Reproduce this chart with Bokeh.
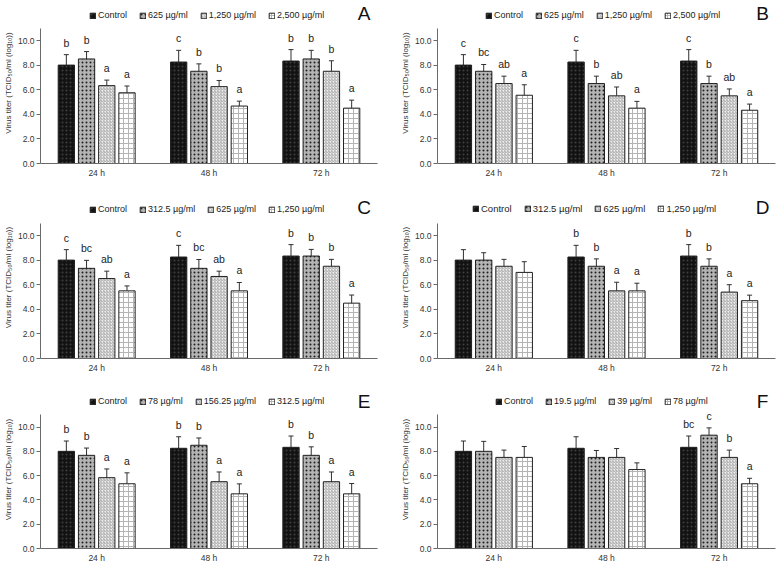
from bokeh.plotting import figure
from bokeh.models import (FactorRange, ColumnDataSource, Whisker, TeeHead, Legend,
                          LegendItem, Label, FixedTicker, NumeralTickFormatter)
from bokeh.transform import dodge
from bokeh.layouts import column, row
from bokeh.embed import file_html
from bokeh.resources import INLINE
from bokeh.core.properties import value

# ---------------- data ----------------
times = ["24 h", "48 h", "72 h"]

control_mean = [8.0, 8.25, 8.33]
control_err = [0.85, 0.95, 0.93]

# Panel A
a_series = ["Control", "625 µg/ml", "1,250 µg/ml", "2,500 µg/ml"]
a_means = [control_mean, [8.5, 7.5, 8.5], [6.33, 6.25, 7.5], [5.75, 4.67, 4.5]]
a_errs = [control_err, [0.6, 0.6, 0.7], [0.45, 0.5, 0.85], [0.55, 0.4, 0.65]]
a_letters = [["b", "c", "b"], ["b", "b", "b"], ["a", "b", "b"], ["a", "a", "a"]]

# Panel B
b_series = ["Control", "625 µg/ml", "1,250 µg/ml", "2,500 µg/ml"]
b_means = [control_mean, [7.5, 6.5, 6.5], [6.5, 5.5, 5.5], [5.55, 4.5, 4.33]]
b_errs = [control_err, [0.55, 0.6, 0.6], [0.6, 0.72, 0.56], [0.85, 0.55, 0.5]]
b_letters = [["c", "c", "c"], ["bc", "b", "b"], ["ab", "ab", "ab"], ["a", "a", "a"]]

# Panel C
c_series = ["Control", "312.5 µg/ml", "625 µg/ml", "1,250 µg/ml"]
c_means = [control_mean, [7.33, 7.33, 8.33], [6.5, 6.67, 7.5], [5.5, 5.5, 4.5]]
c_errs = [control_err, [0.65, 0.72, 0.54], [0.6, 0.43, 0.56], [0.4, 0.68, 0.66]]
c_letters = [["c", "c", "b"], ["bc", "bc", "b"], ["ab", "ab", "b"], ["a", "a", "a"]]

# Panel D
d_series = ["Control", "312.5 µg/ml", "625 µg/ml", "1,250 µg/ml"]
d_means = [control_mean, [8.0, 7.5, 7.5], [7.5, 5.5, 5.4], [7.0, 5.5, 4.7]]
d_errs = [control_err, [0.6, 0.6, 0.6], [0.56, 0.7, 0.6], [0.87, 0.62, 0.45]]
d_letters = [["", "b", "b"], ["", "b", "b"], ["", "a", "a"], ["", "a", "a"]]

# Panel E
e_series = ["Control", "78 µg/ml", "156.25 µg/ml", "312.5 µg/ml"]
e_means = [control_mean, [7.67, 8.5, 7.67], [5.83, 5.5, 5.5], [5.33, 4.5, 4.5]]
e_errs = [control_err, [0.6, 0.6, 0.7], [0.72, 0.8, 0.8], [0.9, 0.82, 0.85]]
e_letters = [["b", "b", "b"], ["b", "b", "b"], ["a", "a", "a"], ["a", "a", "a"]]

# Panel F
f_series = ["Control", "19.5 µg/ml", "39 µg/ml", "78 µg/ml"]
f_means = [control_mean, [8.0, 7.5, 9.33], [7.5, 7.5, 7.5], [7.5, 6.5, 5.33]]
f_errs = [control_err, [0.82, 0.57, 0.6], [0.6, 0.73, 0.6], [0.9, 0.55, 0.45]]
f_letters = [["", "", "bc"], ["", "", "c"], ["", "", "b"], ["", "", "a"]]

y_ticks = [0, 2, 4, 6, 8, 10]

# ---------------- style ----------------
FONT = "Liberation Sans"
OFFSETS = [-0.27, -0.09, 0.09, 0.27]
BAR_W = 0.145
PX_PER_UNIT = 12.3
STYLES = [
    dict(fill_color="#121212", hatch_pattern="dot", hatch_color="#3e3e3e", hatch_scale=4, hatch_weight=1),
    dict(fill_color="#b4b4b4", hatch_pattern="dot", hatch_color="#1e1e1e", hatch_scale=4, hatch_weight=1),
    dict(fill_color="#f0f0f0", hatch_pattern="right_diagonal_line", hatch_color="#a8a8a8", hatch_scale=3, hatch_weight=1),
    dict(fill_color="#ffffff", hatch_pattern="cross", hatch_color="#b4b4b4", hatch_scale=5, hatch_weight=1),
]


def make_panel(tag, series, means, errs, letters, width, height, left, right, top, bottom,
               tag_x, leg_x, leg_font):
    frame_h = height - top - bottom
    y_end = frame_h / PX_PER_UNIT
    p = figure(x_range=FactorRange(*times), y_range=(0, y_end), width=width, height=height,
               output_backend="svg", toolbar_location=None,
               min_border_left=left, min_border_right=right,
               min_border_top=top, min_border_bottom=bottom)
    p.outline_line_color = None
    p.grid.visible = False
    p.x_range.range_padding = 0

    items = []
    for i in range(4):
        src = ColumnDataSource(dict(
            t=times, v=means[i],
            up=[m + e for m, e in zip(means[i], errs[i])],
            lo=[m - e for m, e in zip(means[i], errs[i])],
            lbl=letters[i]))
        r = p.vbar(x=dodge("t", OFFSETS[i], range=p.x_range), top="v", width=BAR_W,
                   source=src, line_color="#202020", line_width=1, **STYLES[i])
        p.add_layout(Whisker(base=dodge("t", OFFSETS[i], range=p.x_range), upper="up", lower="lo",
                             source=src, line_color="#303030", line_width=1,
                             upper_head=TeeHead(size=5, line_color="#303030", line_width=1),
                             lower_head=TeeHead(size=5, line_color="#303030", line_width=1)))
        p.text(x=dodge("t", OFFSETS[i], range=p.x_range), y="up", text="lbl", source=src,
               text_align="center", text_baseline="bottom", y_offset=-6,
               text_font=value(FONT), text_font_size="10.5px", text_color="#222222")
        items.append(LegendItem(label=series[i], renderers=[r]))

    leg = Legend(items=items, orientation="horizontal", location=(leg_x, frame_h - 18),
                 border_line_color=None, background_fill_alpha=0,
                 label_text_font=FONT, label_text_font_size=leg_font, label_text_color="#222222",
                 glyph_width=7, glyph_height=7, label_standoff=2, spacing=12,
                 padding=0, margin=0, label_height=9)
    p.add_layout(leg)

    p.add_layout(Label(x=tag_x, y=y_end, text=tag, text_align="center", text_baseline="top",
                       text_font=FONT, text_font_size="19px", text_color="#111111"))

    p.yaxis.ticker = FixedTicker(ticks=y_ticks)
    p.yaxis.formatter = NumeralTickFormatter(format="0.0")
    p.yaxis.bounds = (0, 11)
    p.yaxis.minor_tick_line_color = None
    p.yaxis.major_tick_in = 0
    p.yaxis.major_tick_out = 4
    p.yaxis.major_label_standoff = 2
    p.yaxis.axis_label = "Virus titer (TCID₅₀/ml (log₁₀))"
    p.yaxis.axis_label_standoff = 2
    p.yaxis.axis_label_text_font = FONT
    p.yaxis.axis_label_text_font_style = "normal"
    p.yaxis.axis_label_text_font_size = "8px"
    p.yaxis.axis_label_text_color = "#333333"

    p.xaxis.major_tick_in = 0
    p.xaxis.major_tick_out = 0
    p.xaxis.major_label_standoff = 4

    for ax in (p.xaxis, p.yaxis):
        ax.axis_line_color = "#6a6a6a"
        ax.major_tick_line_color = "#6a6a6a"
        ax.major_label_text_font = FONT
        ax.major_label_text_font_size = "8.5px"
        ax.major_label_text_color = "#333333"
    return p


WL, WR = 389, 388
heights = [194, 194, 177]
tops = [2, 2, 2]
bottoms = [31, 30, 15]

pA = make_panel("A", a_series, a_means, a_errs, a_letters, WL, heights[0], 33, 12, tops[0], bottoms[0], 2.88, 49, "9px")
pB = make_panel("B", b_series, b_means, b_errs, b_letters, WR, heights[0], 48, 2, tops[0], bottoms[0], 2.885, 48, "9px")
pC = make_panel("C", c_series, c_means, c_errs, c_letters, WL, heights[1], 33, 12, tops[1], bottoms[1], 2.88, 49, "9px")
pD = make_panel("D", d_series, d_means, d_errs, d_letters, WR, heights[1], 48, 2, tops[1], bottoms[1], 2.885, 35, "9.5px")
pE = make_panel("E", e_series, e_means, e_errs, e_letters, WL, heights[2], 33, 12, tops[2], bottoms[2], 2.88, 49, "9px")
pF = make_panel("F", f_series, f_means, f_errs, f_letters, WR, heights[2], 48, 2, tops[2], bottoms[2], 2.885, 58, "9px")

layout = column(row(pA, pB), row(pC, pD), row(pE, pF))

open("out.html", "w").write(file_html(layout, INLINE))
